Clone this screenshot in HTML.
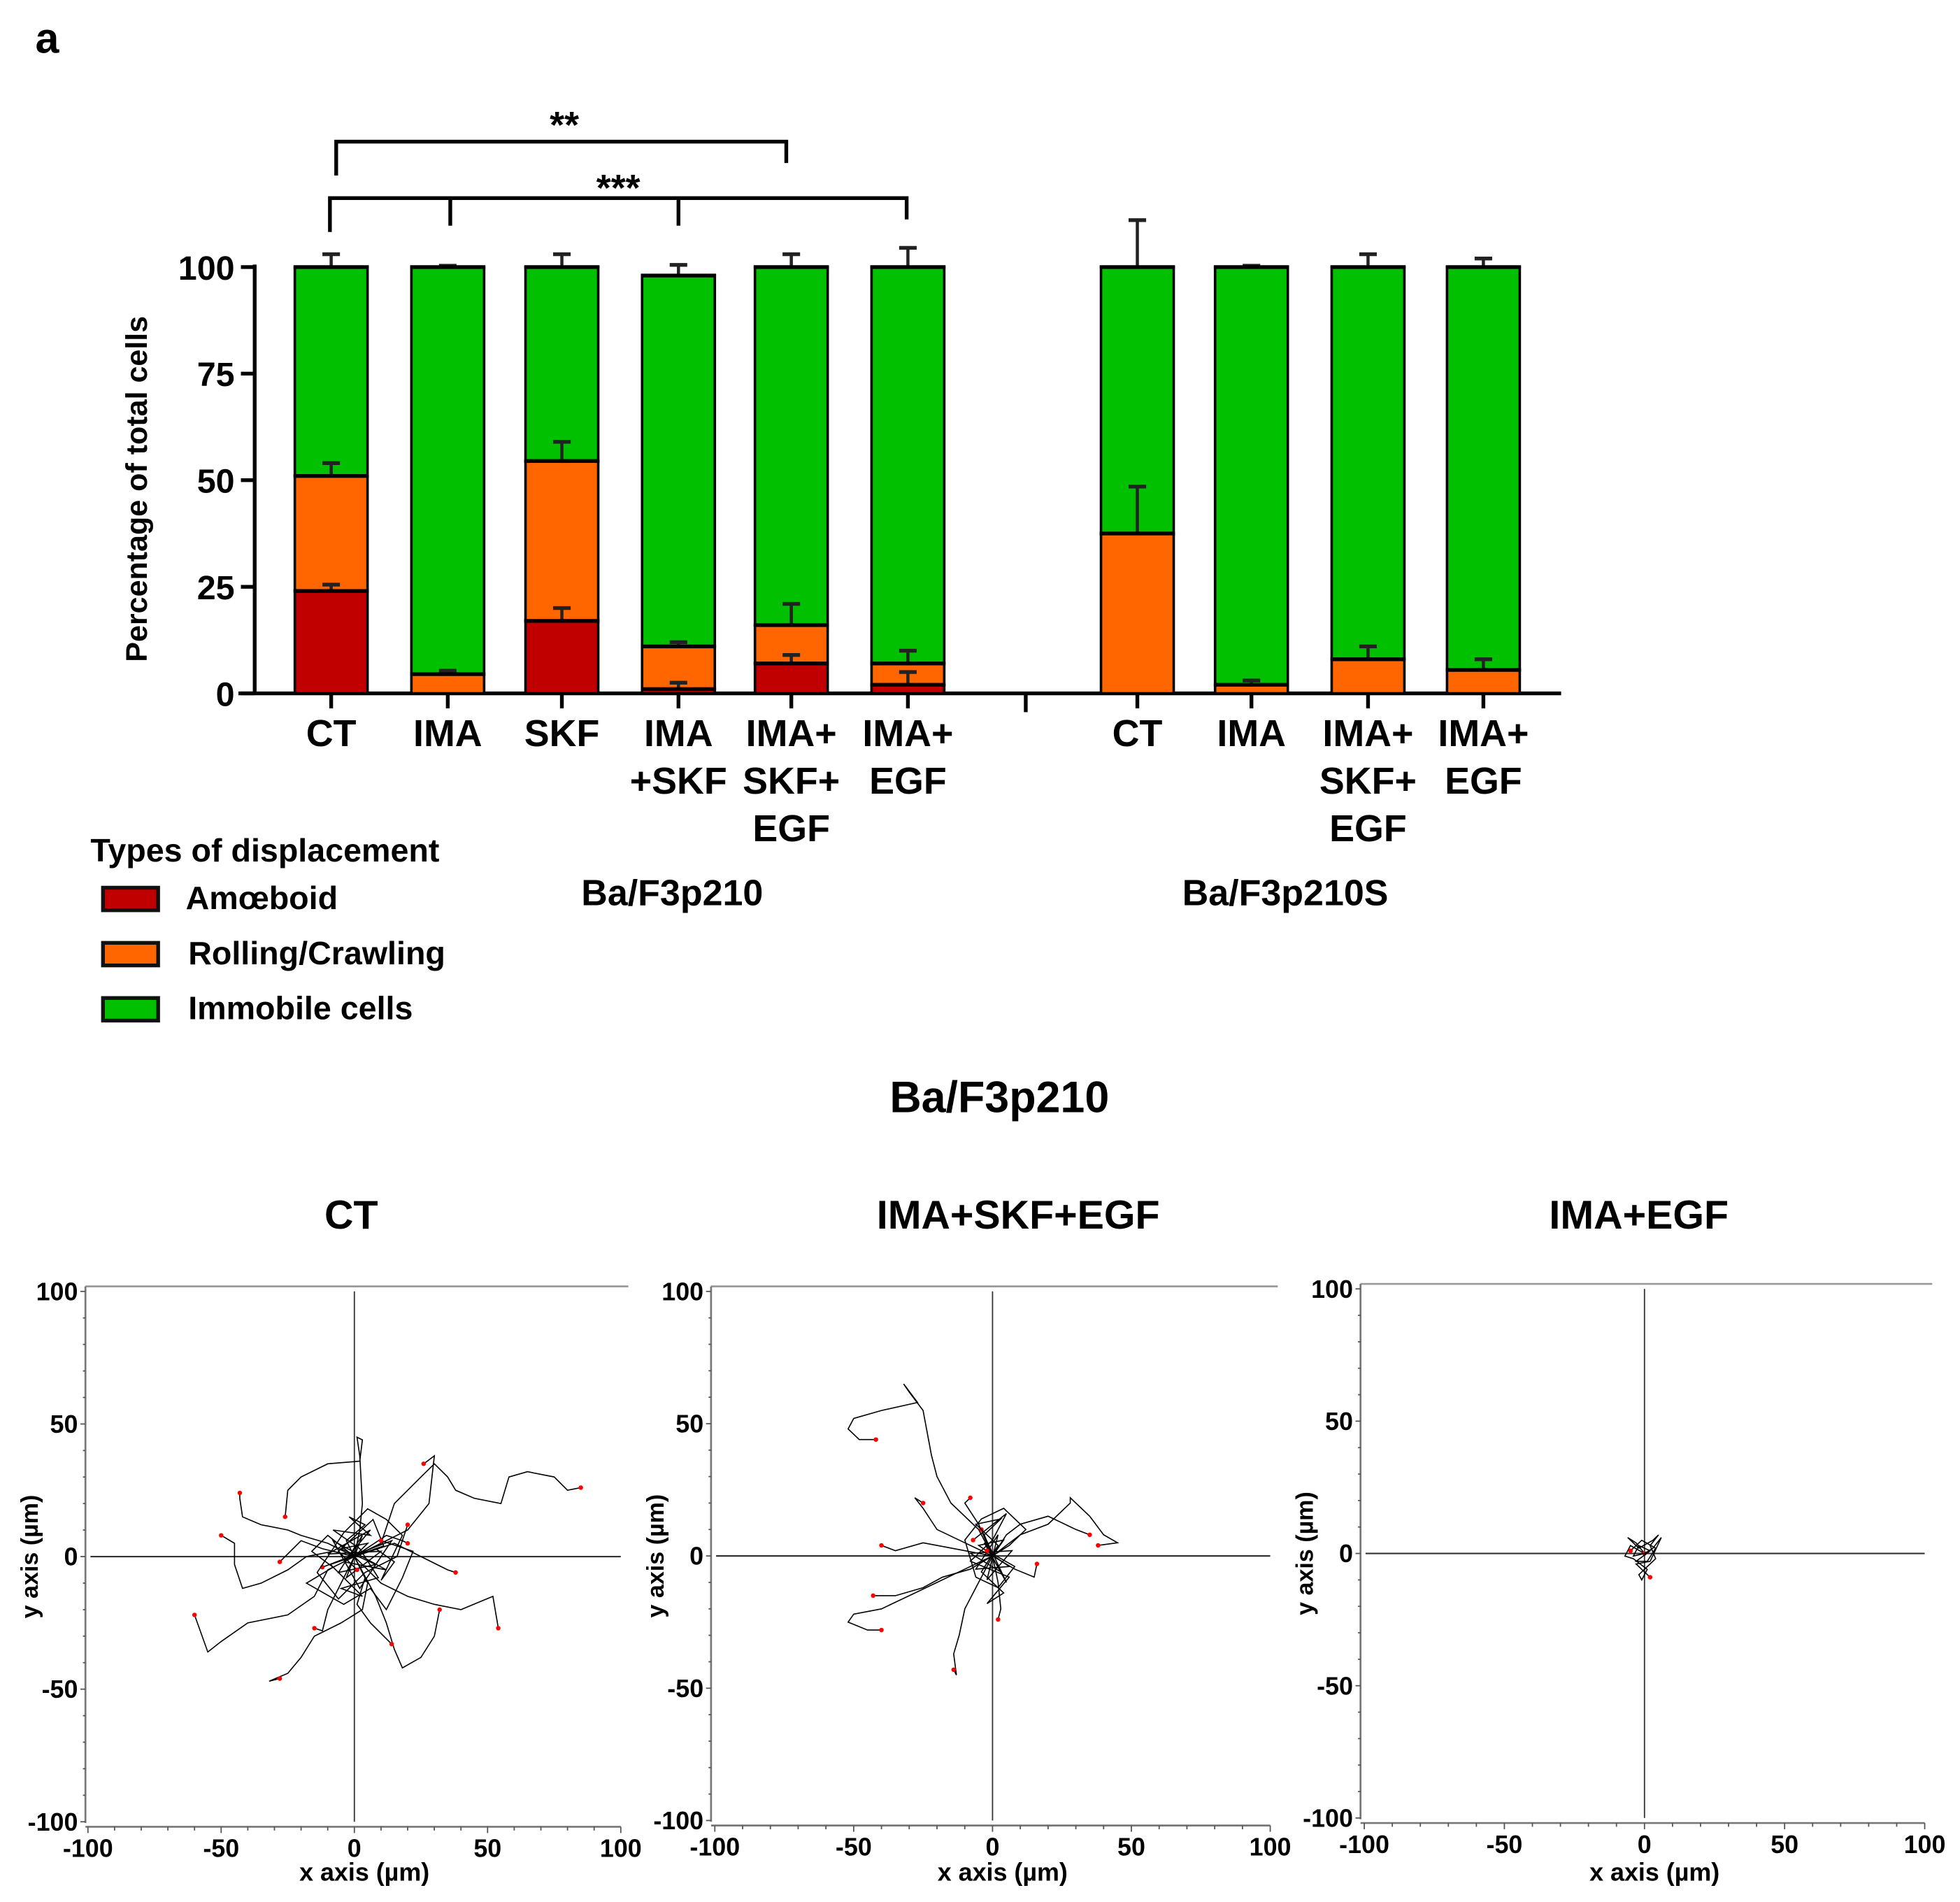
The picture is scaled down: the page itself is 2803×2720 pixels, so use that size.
<!DOCTYPE html>
<html><head><meta charset="utf-8"><style>
html,body{margin:0;padding:0;background:#fff}
svg{display:block}
.n{font-family:"Liberation Sans Narrow","Liberation Sans",sans-serif;font-weight:bold}
.w{font-family:"Liberation Sans",sans-serif;font-weight:bold}
</style></head><body>
<svg id="fig" xmlns="http://www.w3.org/2000/svg" width="2803" height="2720" viewBox="0 0 1563 1517">
<text class="w" x="28" y="42" font-size="34">a</text>
<g id="bars"></g>
<g id="tracks"></g>
</svg>
<script>
// ---- Bar chart data ----
const categories = ["CT","IMA","SKF","IMA+SKF","IMA+SKF+EGF","IMA+EGF","CT","IMA","IMA+SKF+EGF","IMA+EGF"];
const categoryLines = [["CT"],["IMA"],["SKF"],["IMA","+SKF"],["IMA+","SKF+","EGF"],["IMA+","EGF"],["CT"],["IMA"],["IMA+","SKF+","EGF"],["IMA+","EGF"]];
const amoeboid = [24,0,17,1,7,2,0,0,0,0];
const rolling = [27,4.5,37.5,10,9,5,37.5,2,8,5.5];
const immobile = [49,95.5,45.5,87,84,93,62.5,98,92,94.5];
const amoeboidErr = [1.5,0,3,1.5,2,3,0,0,0,0];
const rollingErr = [3,0.8,4.5,1,5,3,11,1,3,2.5];
const immobileErr = [3,0.3,3,2.5,3,4.5,11,0.3,3,2];
const yTicks = [0,25,50,75,100];

const NS="http://www.w3.org/2000/svg";
function mk(tag,attrs,parent,text){const e=document.createElementNS(NS,tag);for(const k in attrs)e.setAttribute(k,attrs[k]);if(text!==undefined)e.textContent=text;parent.appendChild(e);return e;}

const bars=document.getElementById('bars');
const yBase=553, yTop=213;
const yS=v=>yBase-(v/100)*(yBase-yTop);
const centers=[264,357,448,541,631,724,907,998,1091,1183];
const bw=58;

let e;
e=mk('line',{x1:203,y1:yTop-2,x2:203,y2:yBase+1,stroke:'#000','stroke-width':3},bars);


e=mk('line',{x1:190,y1:yBase,x2:1245,y2:yBase,stroke:'#000','stroke-width':3},bars);


yTicks.forEach(t=>{
  e=mk('line',{x1:192,y1:yS(t),x2:203,y2:yS(t),stroke:'#000','stroke-width':3},bars);
  
  
  e=mk('text',{x:187,y:yS(t)+10,'text-anchor':'end','font-size':27,class:'n'},bars,String(t));
  
  
});
e=mk('text',{x:0,y:0,transform:'translate(117,390) rotate(-90)','text-anchor':'middle','font-size':24,class:'w'},bars,'Percentage of total cells');


e=mk('line',{x1:818,y1:yBase,x2:818,y2:568,stroke:'#000','stroke-width':3},bars);



const colors=['#c00000','#ff6600','#00c000'];
const names=['amoeboid','rolling','immobile'];
const errLayer=[];
categories.forEach((c,i)=>{
  const vals=[amoeboid[i],rolling[i],immobile[i]];
  const errs=[amoeboidErr[i],rollingErr[i],immobileErr[i]];
  let cum=0;
  const x0=centers[i]-bw/2;
  e=mk('line',{x1:centers[i],y1:yBase,x2:centers[i],y2:yBase+12,stroke:'#000','stroke-width':3},bars);
  
  
  vals.forEach((v,k)=>{
    if(v<=0) return;
    const y1=yS(cum+v), y0=yS(cum);
    e=mk('rect',{x:x0,y:y1,width:bw,height:y0-y1,fill:colors[k],stroke:'#000','stroke-width':2},bars);
    
    
    cum+=v;
    errLayer.push([centers[i],x0,y1,errs[k]>0?yS(cum+errs[k]):null]);
  });
  categoryLines[i].forEach((ln,j)=>{
    e=mk('text',{x:centers[i],y:595+j*38,'text-anchor':'middle','font-size':30,class:'n'},bars,ln);
    
    
  });
});
errLayer.forEach(q=>{
  const [cx,x0,y1,ye]=q;
  if(ye!==null){
    e=mk('line',{x1:cx,y1:y1,x2:cx,y2:ye,stroke:'#222','stroke-width':2.5},bars);
    
    
    e=mk('line',{x1:cx-7,y1:ye,x2:cx+7,y2:ye,stroke:'#222','stroke-width':3},bars);
    
    
  }
  e=mk('line',{x1:x0-1,y1:y1,x2:x0+bw+1,y2:y1,stroke:'#000','stroke-width':3},bars);
  
  
});

function poly(pts,name){const p=mk('polyline',{points:pts,fill:'none',stroke:'#000','stroke-width':3},bars);}
poly('268,140 268,113 627,113 627,130','bracket-double-star');
poly('263,185 263,158 723,158 723,175','bracket-triple-star');
[359,541].forEach(x=>{e=mk('line',{x1:x,y1:158,x2:x,y2:180,stroke:'#000','stroke-width':3},bars);});
e=mk('text',{x:450,y:110,'text-anchor':'middle','font-size':30,class:'w'},bars,'**');


e=mk('text',{x:493,y:160,'text-anchor':'middle','font-size':30,class:'w'},bars,'***');



e=mk('text',{x:536,y:722,'text-anchor':'middle','font-size':29,class:'n'},bars,'Ba/F3p210');


e=mk('text',{x:1025,y:722,'text-anchor':'middle','font-size':29,class:'n'},bars,'Ba/F3p210S');



e=mk('text',{x:72,y:687,'font-size':26,class:'n'},bars,'Types of displacement');


const legendLabels=['Amœboid','Rolling/Crawling','Immobile cells'];
legendLabels.forEach((l,k)=>{
  const y=708+k*44;
  e=mk('rect',{x:82,y:y,width:44,height:18,fill:colors[k],stroke:'#111','stroke-width':3},bars);
  
  
  e=mk('text',{x:148+(k?2:0),y:y+17,'font-size':26,class:'n'},bars,l);
  
  
});

// ---- Trajectory data (µm) ----
const ctTracks = [
 [[0,0],[2,10],[3,20],[2,38],[1,45],[3,44],[2,36],[-10,35],[-20,30],[-25,25],[-26,15]],
 [[0,0],[10,5],[15,20],[25,30],[30,35],[35,30],[38,25],[45,22],[55,20],[58,30],[65,32],[75,30],[80,25],[85,26]],
 [[0,0],[-10,5],[-20,8],[-25,10],[-35,12],[-42,15],[-43,22],[-43,24]],
 [[0,0],[-8,2],[-18,0],[-25,-5],[-35,-10],[-42,-12],[-45,-3],[-45,5],[-50,8]],
 [[0,0],[5,-10],[3,-20],[-5,-25],[-15,-30],[-20,-38],[-25,-44],[-32,-47],[-28,-46]],
 [[0,0],[-10,-5],[-15,-15],[-25,-22],[-40,-25],[-50,-32],[-55,-36],[-60,-22]],
 [[0,0],[10,-10],[20,-15],[30,-18],[40,-20],[52,-15],[54,-27]],
 [[0,0],[8,-15],[12,-25],[15,-35],[18,-42],[25,-38],[30,-30],[32,-20]],
 [[0,0],[15,5],[25,0],[35,-5],[38,-6]],
 [[0,0],[20,10],[28,20],[30,38],[26,35]],
 [[0,0],[-5,-10],[-10,-20],[-12,-28],[-15,-27]],
 [[0,0],[12,8],[18,6],[20,5]],
 [[0,0],[-12,3],[-20,6],[-28,-2]],
 [[0,0],[4,-8],[1,-18],[6,-25],[14,-33]],
 [[0,0],[5,5],[-5,3],[8,-3],[-6,-6],[3,8],[-3,-8],[10,2],[-10,1],[6,10],[-4,-2],[12,-5],[-8,6],[2,-12],[14,6],[-12,-4]],
 [[0,0],[-3,6],[4,12],[-2,15],[6,8],[-8,10],[2,3],[9,-8],[-5,-12],[3,-15],[-9,-3],[11,4],[7,14],[-6,2],[1,-5]],
 [[0,0],[8,3],[15,-2],[10,-9],[18,8],[12,14],[5,18],[-4,9],[-14,-6],[-6,-16],[4,-6],[16,0],[20,12]],
 [[0,0],[-10,8],[-16,2],[-8,-4],[-18,-10],[-4,-18],[6,-12],[12,-20],[18,-8],[22,2],[10,6]]
];
const skfTracks = [
 [[0,0],[-5,10],[-15,20],[-20,30],[-22,38],[-25,55],[-30,62],[-32,65],[-27,58],[-40,55],[-50,52],[-52,48],[-48,44],[-42,44]],
 [[0,0],[-10,5],[-20,10],[-25,18],[-28,22],[-25,20]],
 [[0,0],[10,8],[20,12],[28,20],[28,22],[35,15],[40,8],[45,5],[38,4]],
 [[0,0],[-10,-5],[-20,-10],[-30,-15],[-40,-20],[-50,-22],[-52,-25],[-45,-28],[-40,-28]],
 [[0,0],[-5,-10],[-10,-20],[-12,-30],[-14,-37],[-13,-45],[-14,-43]],
 [[0,0],[-8,-5],[-18,-8],[-25,-12],[-35,-15],[-43,-15]],
 [[0,0],[-15,3],[-25,5],[-35,2],[-40,4]],
 [[0,0],[5,8],[10,12],[20,15],[30,10],[35,8]],
 [[0,0],[2,-10],[3,-20],[2,-24]],
 [[0,0],[-5,12],[-10,20],[-8,22]],
 [[0,0],[8,-5],[15,-8],[16,-3]],
 [[0,0],[4,6],[-5,4],[6,-4],[-6,-5],[2,8],[-2,-9],[7,2],[-8,1],[3,-6],[-3,5],[5,-10],[-4,10]],
 [[0,0],[-3,8],[3,14],[-6,12],[2,4],[-4,-6],[4,-14],[-2,-18],[6,-8],[-8,-2],[0,6],[5,16],[-7,6]],
 [[0,0],[6,4],[12,10],[4,18],[-4,14],[-10,6],[-6,-8],[2,-12],[8,-4],[-2,2]]
];
const egfTracks = [
 [[0,0],[-3,4],[-6,6],[-2,2],[3,5],[5,7],[2,3],[4,-2],[1,-5],[-2,-8],[-1,-10],[1,-6],[-4,-2],[-7,-1],[-5,3],[0,0]],
 [[0,0],[3,2],[6,6],[2,-3],[-3,-4],[0,-7],[2,-9]],
 [[0,0],[-4,-1],[-2,3],[2,1],[-3,-3],[1,-3],[4,2],[-1,5],[-5,1]]
];
const axisTicks=[-100,-50,0,50,100];

const tracks=document.getElementById('tracks');
e=mk('text',{x:797,y:887,'text-anchor':'middle','font-size':35,class:'n'},tracks,'Ba/F3p210');



const panels=[
 {title:'CT',tx:280,ax:68,x0:70,x1:495,y0:1453,y1:1030,data:ctTracks},
 {title:'IMA+SKF+EGF',tx:812,ax:567,x0:570,x1:1013,y0:1452,y1:1030,data:skfTracks},
 {title:'IMA+EGF',tx:1307,ax:1085,x0:1088,x1:1535,y0:1450,y1:1028,data:egfTracks}
];
panels.forEach((p,pi)=>{
  const g=mk('g',{},tracks);
  
  
  const X=v=>p.x0+(v+100)/200*(p.x1-p.x0);
  const Y=v=>p.y0-(v+100)/200*(p.y0-p.y1);
  e=mk('text',{x:p.tx,y:980,'text-anchor':'middle','font-size':32,class:'n'},g,p.title);
  
  
  e=mk('line',{x1:p.ax,y1:p.y1-4,x2:p.x1+6,y2:p.y1-4,stroke:'#999','stroke-width':1.5},g);
  
  
  e=mk('line',{x1:p.ax,y1:p.y1-4,x2:p.ax,y2:p.y0+1,stroke:'#777','stroke-width':1.5},g);
  
  
  e=mk('line',{x1:p.ax,y1:p.y0+4,x2:p.x1,y2:p.y0+4,stroke:'#777','stroke-width':1.5},g);
  
  
  for(let t=-100;t<=100;t+=10){
    const big=t%50===0;
    e=mk('line',{x1:p.ax-(big?4:2),y1:Y(t),x2:p.ax,y2:Y(t),stroke:'#555','stroke-width':1},g);
    
    
    e=mk('line',{x1:X(t),y1:p.y0+4,x2:X(t),y2:p.y0+(big?9:7),stroke:'#555','stroke-width':1},g);
    
    
  }
  axisTicks.forEach(t=>{
    e=mk('text',{x:p.ax-6,y:Y(t)+7,'text-anchor':'end','font-size':20,class:'n'},g,String(t));
    
    
    e=mk('text',{x:X(t),y:p.y0+28,'text-anchor':'middle','font-size':20,class:'n'},g,String(t));
    
    
  });
  e=mk('line',{x1:X(0),y1:p.y1,x2:X(0),y2:p.y0,stroke:'#333','stroke-width':1},g);
  
  
  e=mk('line',{x1:p.ax+4,y1:Y(0),x2:p.x1,y2:Y(0),stroke:'#333','stroke-width':1.2},g);
  
  
  e=mk('text',{x:X(0)+8,y:1500,'text-anchor':'middle','font-size':20,class:'n'},g,'x axis (µm)');
  
  
  e=mk('text',{x:0,y:0,transform:'translate('+(p.ax-38)+','+Y(0)+') rotate(-90)','text-anchor':'middle','font-size':19,class:'w'},g,'y axis (µm)');
  
  
  p.data.forEach(tr=>{
    const pts=tr.map(q=>X(q[0]).toFixed(1)+','+Y(q[1]).toFixed(1)).join(' ');
    const l=mk('polyline',{points:pts,fill:'none',stroke:'#000','stroke-width':0.9},g);
    
    
    const end=tr[tr.length-1];
    const d=mk('circle',{cx:X(end[0]),cy:Y(end[1]),r:1.8,fill:'#ff0000'},g);
    
    
  });
});
</script>
</body></html>
